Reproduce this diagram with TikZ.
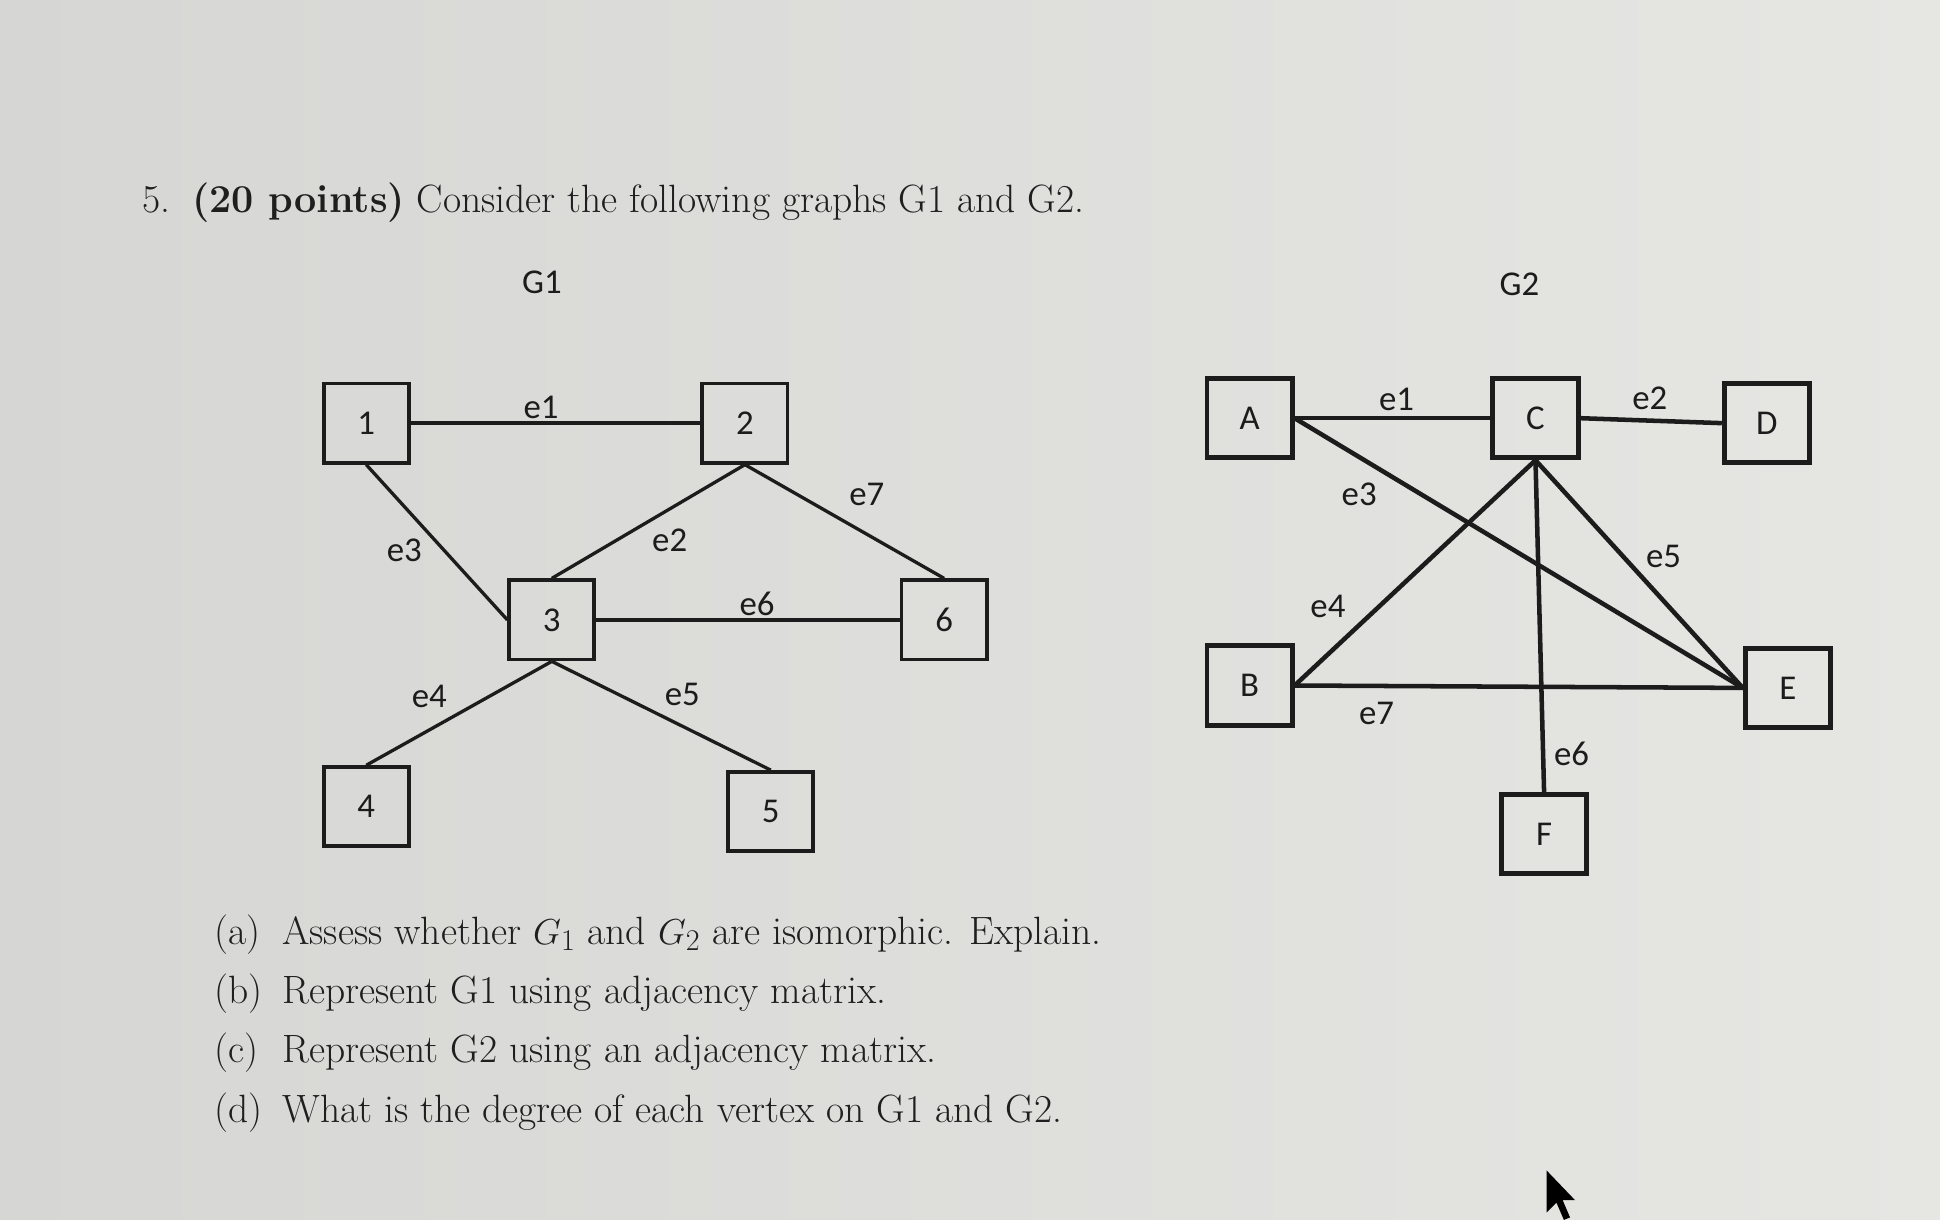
\documentclass[tikz,border=0pt]{standalone}
\usepackage{fontspec}
\newfontfamily\calibri{Carlito}
\usepackage{tikz}
\usetikzlibrary{positioning}
\definecolor{paper}{RGB}{230,230,227}
\definecolor{paperdark}{RGB}{214,214,212}
\definecolor{ink}{RGB}{28,28,28}
\newcommand{\qfont}{\fontsize{22.7}{26}\selectfont}
\newcommand{\gfont}{\calibri\fontsize{20}{24}\selectfont}

\begin{document}
\begin{tikzpicture}[x=0.025cm, y=-0.025cm, ink,
    qtext/.style={anchor=base west, inner sep=0pt, font=\qfont, text=black!88},
    vtx/.style={draw, rectangle, minimum width=1.72cm, minimum height=1.6cm, inner sep=0pt, font=\gfont},
    lab/.style={inner sep=0pt, font=\gfont},
    gone/.style={line width=1.9pt},
    gtwo/.style={line width=2.6pt}]
      \useasboundingbox (0,0) rectangle (1568,986);
      \shade[left color=paperdark, right color=paper] (0,0) rectangle (1568,986);

      % Question
      \node[qtext] (qnum) at (115,172) {5.};
      \node[qtext] (qhead) at (155,172) {\textbf{(20 points)} Consider the following graphs G1 and G2.};

      % Graph G1
      \node[lab] (g1title) at (438,228) {G1};
      \node[vtx, line width=2.2pt] (n1) at (296,342) {1};
      \node[vtx, line width=2.2pt] (n2) [right of=n1, node distance=7.65cm] {2};
      \node[vtx, line width=2.2pt] (n3) at (446,501) {3};
      \node[vtx, line width=2.2pt] (n6) [right of=n3, node distance=7.925cm] {6};
      \node[vtx, line width=2.2pt] (n4) [below of=n1, node distance=7.75cm] {4};
      \node[vtx, line width=2.2pt] (n5) at (623,656) {5};

      \path[gone]
            (n1.east) edge node[lab, pos=0.45, shift={(0,-13)}] (le1) {e1} (n2.west)
            (n2.south) edge node[lab, pos=0.46, shift={(11,19)}] (le2) {e2} (n3.north)
            (n1.south) edge node[lab, pos=0.55, shift={(-32,0)}] (le3) {e3} (n3.west)
            (n3.south) edge node[lab, pos=0.5, shift={(-24,-14)}] (le4) {e4} (n4.north)
            (n3.south) edge node[lab, pos=0.5, shift={(17,-17)}] (le5) {e5} (n5.north)
            (n3.east) edge node[lab, pos=0.53, shift={(0,-13)}] (le6) {e6} (n6.west)
            (n2.south) edge node[lab, pos=0.5, shift={(18,-22)}] (le7) {e7} (n6.north)
            ;

      % Graph G2
      \node[lab] (g2title) at (1228,230) {G2};
      \node[vtx, line width=2.8pt] (a) at (1010,338) {A};
      \node[vtx, line width=2.8pt] (c) [right of=a, node distance=5.775cm] {C};
      \node[vtx, line width=2.8pt] (d) at (1428,342) {D};
      \node[vtx, line width=2.8pt] (b) [below of=a, node distance=5.4cm] {B};
      \node[vtx, line width=2.8pt] (e) at (1445,556) {E};
      \node[vtx, line width=2.8pt] (f) at (1248,674) {F};

      \path[gtwo]
            (a.east) edge node[lab, pos=0.52, shift={(0,-15)}] (me1) {e1} (c.west)
            (c.east) edge node[lab, pos=0.49, shift={(0,-18)}] (me2) {e2} (d.west)
            (a.east) edge node[lab, pos=0.18, shift={(-13,22)}] (me3) {e3} (e.west)
            (b.east) edge node[lab, pos=0.236, shift={(-19,-21)}] (me4) {e4} (c.south)
            (c.south) edge node[lab, pos=0.51, shift={(18,-16)}] (me5) {e5} (e.west)
            (c.south) edge node[lab, pos=0.886, shift={(23,0)}] (me6) {e6} (f.north)
            (b.east) edge node[lab, pos=0.18, shift={(1,22)}] (me7) {e7} (e.west)
            ;

      % Parts
      \node[qtext] (pa) at (173,763) {(a)};
      \node[qtext] (ta) at (228,763) {Assess whether $G_1$ and $G_2$ are isomorphic. Explain.};
      \node[qtext] (pb) at (173,811) {(b)};
      \node[qtext] (tb) at (228,811) {Represent G1 using adjacency matrix.};
      \node[qtext] (pc) at (173,859) {(c)};
      \node[qtext] (tc) at (228,859) {Represent G2 using an adjacency matrix.};
      \node[qtext] (pd) at (173,907) {(d)};
      \node[qtext] (td) at (228,907) {What is the degree of each vertex on G1 and G2.};

      % Mouse pointer
      \fill[black] (1250,946) -- (1250,980) -- (1258,972) -- (1264,986) -- (1269,984) -- (1263,970) -- (1273,970) -- cycle;
\end{tikzpicture}
\end{document}
